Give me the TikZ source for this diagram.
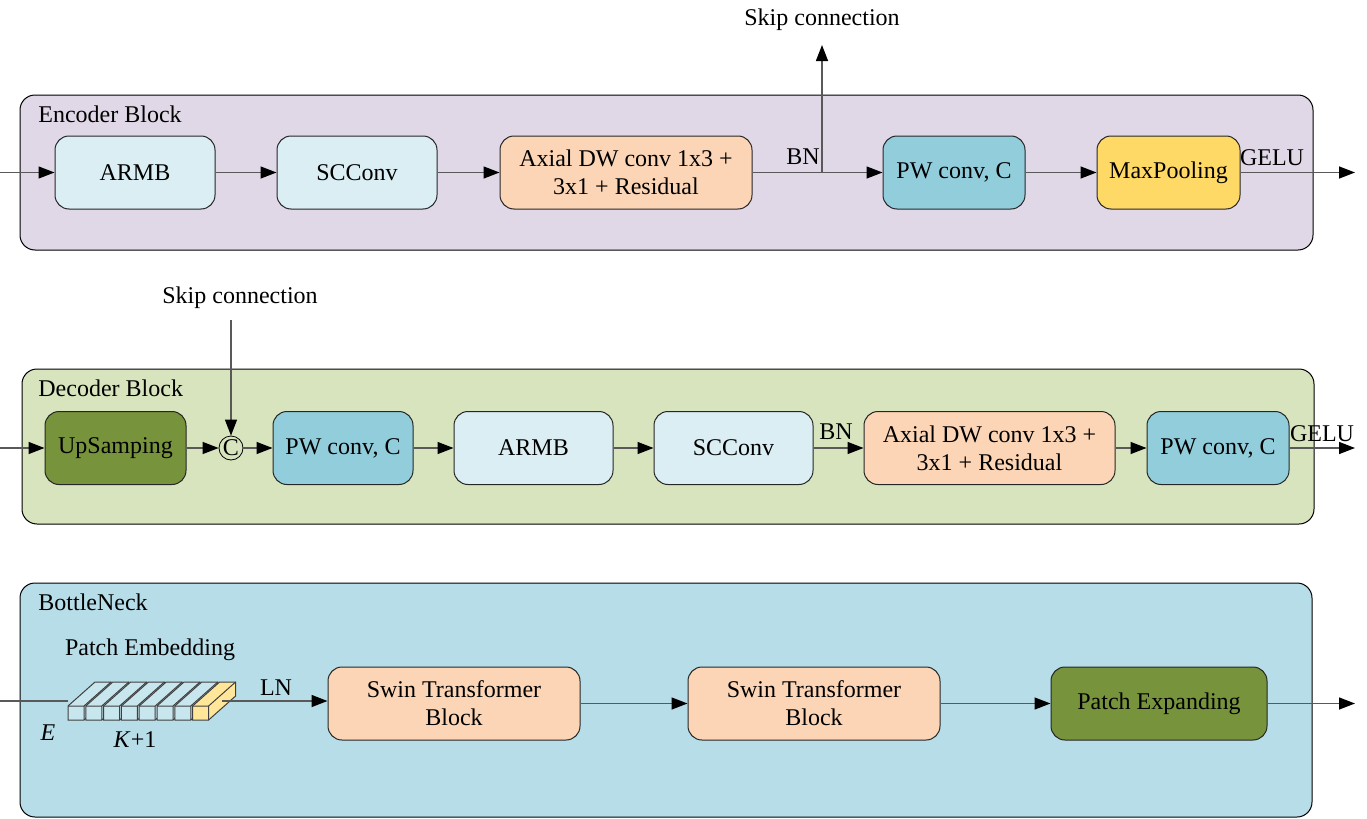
\documentclass[tikz,border=0pt]{standalone}
\usepackage{fontspec}
\setmainfont{LiberationSerif}[Extension=.ttf,UprightFont=*-Regular,ItalicFont=*-Italic,BoldFont=*-Bold]
\usetikzlibrary{arrows.meta}
\definecolor{encfill}{HTML}{E0D8E7}
\definecolor{decfill}{HTML}{D7E4BD}
\definecolor{botfill}{HTML}{B7DDE8}
\definecolor{cyanfill}{HTML}{DAEEF3}
\definecolor{orgfill}{HTML}{FBD5B5}
\definecolor{pwfill}{HTML}{92CDDC}
\definecolor{yelfill}{HTML}{FFD966}
\definecolor{grnfill}{HTML}{77933C}
\definecolor{cubefill}{HTML}{C8E6EE}
\definecolor{cubeyel}{HTML}{FFE699}

\begin{document}
\begin{tikzpicture}[x=0.5pt,y=-0.5pt,font=\rmfamily\fontsize{12}{14}\selectfont,
    blk/.style={draw=black,line width=.5pt,rounded corners=7.5pt},
    box/.style={draw=black!85,line width=.5pt,rounded corners=7pt,minimum height=36.5pt,
      minimum width=80pt,align=center,inner sep=1pt},
    lnk/.style={draw=black!65,line width=.7pt,-{Triangle[length=8pt,width=6pt,color=black]}},
    lbl/.style={inner sep=0pt}]
    \useasboundingbox (0,0) rectangle (1367,819);
    % blocks
    \draw[blk,fill=encfill] (20,95) rectangle (1313,250);
    \draw[blk,fill=decfill] (22,369) rectangle (1314,524);
    \draw[blk,fill=botfill] (20,583) rectangle (1312,817);
    \node[lbl,anchor=west] at (38,114) {Encoder Block};
    \node[lbl,anchor=west] at (38,388) {Decoder Block};
    \node[lbl,anchor=west] at (38,602) {BottleNeck};

    % encoder
    \node[box,fill=cyanfill] (eARMB) at (135,172.5) {ARMB};
    \node[box,fill=cyanfill] (eSC) at (357,172.5) {SCConv};
    \node[box,fill=orgfill,minimum width=126pt] (eAx) at (626,172.5) {Axial DW conv 1x3 +\\3x1 + Residual};
    \node[box,fill=pwfill,minimum width=71pt] (ePW) at (954,172.5) {PW conv, C};
    \node[box,fill=yelfill,minimum width=71.5pt] (eMP) at (1168.5,172.5) {MaxPooling};
    \coordinate (eIn) at (0,172.5);
    \coordinate (eOut) at (1355,172.5);
    \coordinate (eBr) at (822,172.5);
    \coordinate (eSkip) at (822,45);
    \node[lbl] (eSkipT) at (822,20) {Skip connection};
    \node[lbl] at (803,157) {BN};
    \node[lbl] at (1272,158) {GELU};
    \draw[lnk] (eIn) -- (eARMB);
    \draw[lnk] (eARMB) -- (eSC);
    \draw[lnk] (eSC) -- (eAx);
    \draw[lnk] (eAx) -- (ePW);
    \draw[lnk] (eBr) -- (eSkip);
    \draw[lnk] (ePW) -- (eMP);
    \draw[lnk] (eMP) -- (eOut);

    % decoder
    \node[box,fill=grnfill,minimum width=70.5pt] (dUp) at (115.5,448) {UpSamping};
    \node[draw=black,circle,inner sep=0pt,minimum size=12pt] (dC) at (231,448) {C};
    \node[box,fill=pwfill,minimum width=70pt] (dPW1) at (343,448) {PW conv, C};
    \node[box,fill=cyanfill,minimum width=79.5pt] (dARMB) at (533.5,448) {ARMB};
    \node[box,fill=cyanfill,minimum width=79.5pt] (dSC) at (733.5,448) {SCConv};
    \node[box,fill=orgfill,minimum width=125.5pt] (dAx) at (989.5,448) {Axial DW conv 1x3 +\\3x1 + Residual};
    \node[box,fill=pwfill,minimum width=71pt] (dPW2) at (1218,448) {PW conv, C};
    \coordinate (dIn) at (0,448);
    \coordinate (dOut) at (1355,448);
    \coordinate (dSkip) at (231,320);
    \node[lbl] at (240,298) {Skip connection};
    \node[lbl] at (836,432) {BN};
    \node[lbl] at (1322,434) {GELU};
    \draw[lnk] (dIn) -- (dUp);
    \draw[lnk] (dUp) -- (dC);
    \draw[lnk] (dSkip) -- (dC);
    \draw[lnk] (dC) -- (dPW1);
    \draw[lnk] (dPW1) -- (dARMB);
    \draw[lnk] (dARMB) -- (dSC);
    \draw[lnk] (dSC) -- (dAx);
    \draw[lnk] (dAx) -- (dPW2);
    \draw[lnk] (dPW2) -- (dOut);

    % bottleneck
    \coordinate (bIn) at (0,701);
    \coordinate (bPatchIn) at (68,701);
    \coordinate (bPatchOut) at (222,701);
    \coordinate (bOut) at (1355,703.5);
    \draw[draw=black!65,line width=.7pt] (bIn) -- (bPatchIn);
    \foreach \i in {0,...,7}{
      \pgfmathsetmacro{\xa}{68+\i*17.8}
      \ifnum\i=7 \def\cf{cubeyel}\else\def\cf{cubefill}\fi
      \draw[draw=black!75,line width=.5pt,fill=\cf]
        (\xa,706) -- ++(27,-24) -- ++(16,0) -- ++(0,14) -- ++(-27,24) -- ++(-16,0) -- cycle;
      \draw[draw=black!75,line width=.5pt] (\xa,706) -- ++(16,0) -- ++(27,-24)
        (\xa+16,706) -- ++(0,14);
    }
    \node[lbl] at (150,650) {Patch Embedding};
    \node[lbl] at (48,733) {\textit{E}};
    \node[lbl] at (135,740) {\textit{K}+1};
    \node[lbl] at (276,688) {LN};
    \node[box,fill=orgfill,minimum width=126pt] (bSw1) at (454,703.5) {Swin Transformer\\Block};
    \node[box,fill=orgfill,minimum width=126pt] (bSw2) at (814,703.5) {Swin Transformer\\Block};
    \node[box,fill=grnfill,minimum width=108pt] (bPE) at (1159,703.5) {Patch Expanding};
    \draw[lnk] (bPatchOut) -- (bSw1.west |- bPatchOut);
    \draw[lnk] (bSw1) -- (bSw2);
    \draw[lnk] (bSw2) -- (bPE);
    \draw[lnk] (bPE) -- (bOut);
\end{tikzpicture}
\end{document}
